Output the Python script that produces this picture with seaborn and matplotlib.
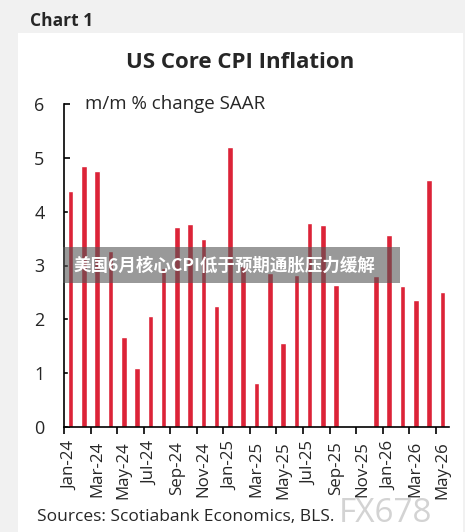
import numpy as np
import pandas as pd
import matplotlib
matplotlib.use("Agg")
import matplotlib.pyplot as plt
import seaborn as sns
from matplotlib.patches import Rectangle

# -------------------------------
# Data
# -------------------------------
months = ["Jan-24", "Feb-24", "Mar-24", "Apr-24", "May-24", "Jun-24", "Jul-24",
          "Aug-24", "Sep-24", "Oct-24", "Nov-24", "Dec-24", "Jan-25", "Feb-25",
          "Mar-25", "Apr-25", "May-25", "Jun-25", "Jul-25", "Aug-25", "Sep-25",
          "Oct-25", "Nov-25", "Dec-25", "Jan-26", "Feb-26", "Mar-26", "Apr-26",
          "May-26"]
core_cpi = [4.39, 4.85, 4.76, 3.27, 1.68, 1.10, 2.07,
            2.95, 3.72, 3.77, 3.49, 2.24, 5.21, 3.00,
            0.82, 2.86, 1.56, 2.83, 3.79, 3.75, 2.63,
            np.nan, np.nan, 2.81, 3.57, 2.61, 2.36, 4.58,
            2.50]
yticks = [0, 1, 2, 3, 4, 5, 6]

df = pd.DataFrame({"month": months, "cpi": core_cpi})

# -------------------------------
# Figure
# -------------------------------
sns.set_style("white")
plt.rcParams["font.family"] = ["Open Sans", "Noto Sans CJK SC", "DejaVu Sans"]

fig = plt.figure(figsize=(4.65, 5.32), dpi=100)
fig.patch.set_facecolor("#f1f1f1")

# white panel behind the chart
bg = fig.add_axes([18 / 465, 0, 445 / 465, 1 - 33 / 532], zorder=0)
bg.set_facecolor("white")
bg.set_xticks([])
bg.set_yticks([])
for s in bg.spines.values():
    s.set_visible(False)

ax = fig.add_axes([64 / 465, 1 - 427 / 532, 385 / 465, 323 / 532], zorder=2)
ax.set_facecolor("none")

sns.barplot(data=df, x="month", y="cpi", order=months, color="#dc2338",
            width=0.42, saturation=1, ax=ax)

ax.set_xlim(-0.5, 28.5)
ax.set_ylim(0, 6)
ax.set_yticks(yticks)
ax.set_yticklabels([str(v) for v in yticks], fontsize=13)
ax.tick_params(axis="y", direction="in", length=4, width=1.2, pad=14,
               color="black", left=True)

ax.set_xticks(range(0, len(months), 2))
ax.set_xticklabels(months[::2], rotation=90, fontsize=12.2)
ax.tick_params(axis="x", which="major", length=0, pad=10)
ax.set_xticks(np.arange(-0.5, 28, 2), minor=True)
ax.tick_params(axis="x", which="minor", direction="out", length=5,
               width=1.2, color="black", bottom=True)

ax.set_xlabel("")
ax.set_ylabel("")
for s in ["top", "right"]:
    ax.spines[s].set_visible(False)
for s in ["left", "bottom"]:
    ax.spines[s].set_color("black")
    ax.spines[s].set_linewidth(1.2)

ax.text(0.055, 1.0, "m/m % change SAAR", transform=ax.transAxes,
        fontsize=13.5, va="center", ha="left")

# -------------------------------
# Titles and notes
# -------------------------------
fig.text(30 / 465, 1 - 21 / 532, "Chart 1", fontsize=12.5, fontweight="bold",
         va="center", ha="left")
fig.text(240 / 465, 1 - 62 / 532, "US Core CPI Inflation", fontsize=16,
         fontweight="bold", va="center", ha="center")
fig.text(37 / 465, 1 - 517 / 532, "Sources: Scotiabank Economics, BLS.",
         fontsize=12.5, va="center", ha="left")

# overlay banner
fig.patches.append(Rectangle((63 / 465, 1 - 283 / 532), 337 / 465, 36 / 532,
                             transform=fig.transFigure, facecolor="#555555",
                             alpha=0.6, edgecolor="none", zorder=5))
fig.text(73 / 465, 1 - 266 / 532, "美国6月核心CPI低于预期通胀压力缓解",
         fontsize=12.6, fontweight="bold", color="white", va="center",
         ha="left", zorder=6, family=["Noto Sans CJK SC", "DejaVu Sans"])

# watermark
fig.text(385 / 465, 1 - 513 / 532, "FX678", fontsize=24, color="#c8c8c8",
         alpha=0.8, va="center", ha="center", zorder=6)

fig.savefig("out.png", dpi=100)
